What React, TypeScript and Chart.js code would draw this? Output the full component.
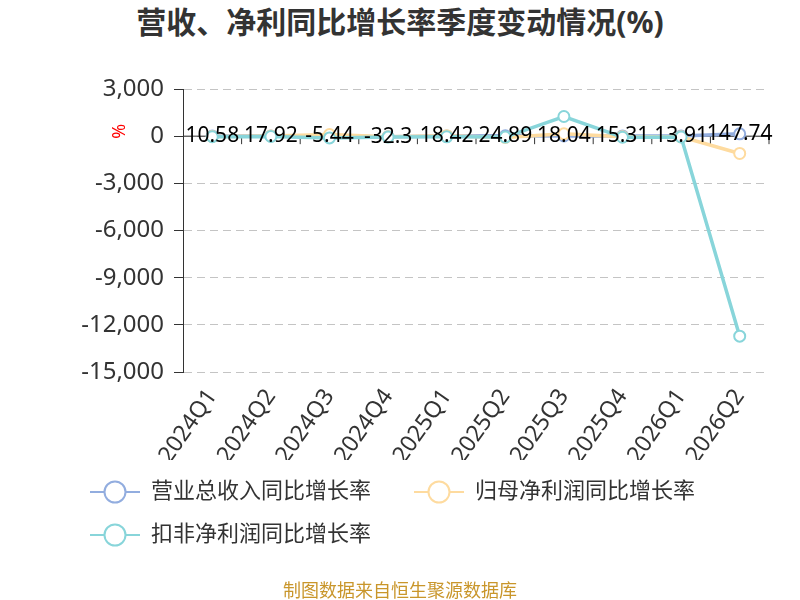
import { useEffect, useRef } from "react";
import Chart from "chart.js/auto";

const FONT = '"Noto Sans", "Noto Sans CJK SC", sans-serif';

const quarters = ["2024Q1", "2024Q2", "2024Q3", "2024Q4", "2025Q1", "2025Q2", "2025Q3", "2025Q4", "2026Q1", "2026Q2"];
const revenueGrowth = [10.58, 17.92, -5.44, -32.3, 18.42, 24.89, 18.04, 15.31, 13.91, 147.74];
const parentNetGrowth = [-20, 10, 100, -40, 30, -80, 150, -30, -40, -1100];
const deductedNetGrowth = [-30, -20, -110, -60, -40, -60, 1250, -70, -50, -12720];
const yTicks = [3000, 0, -3000, -6000, -9000, -12000, -15000];

const seriesNames = ["营业总收入同比增长率", "归母净利润同比增长率", "扣非净利润同比增长率"];
const seriesColors = ["#92addf", "#fedb9f", "#88d5da"];

// legend symbol: short line with hollow circle
const makeIcon = (color: string) => {
  const c = document.createElement("canvas");
  c.width = 50;
  c.height = 26;
  const g = c.getContext("2d")!;
  g.strokeStyle = color;
  g.lineWidth = 2;
  g.beginPath();
  g.moveTo(0, 13);
  g.lineTo(50, 13);
  g.stroke();
  g.beginPath();
  g.arc(25, 13, 10.5, 0, Math.PI * 2);
  g.fillStyle = "#fff";
  g.fill();
  g.stroke();
  return c;
};

const extras = {
  id: "extras",
  beforeDatasetsDraw(chart: any) {
    const { ctx, chartArea, scales } = chart;
    const x = scales.x;
    const y0 = scales.y.getPixelForValue(0);
    ctx.save();
    ctx.strokeStyle = "#333";
    ctx.lineWidth = 1;
    ctx.beginPath();
    ctx.moveTo(chartArea.left, y0);
    ctx.lineTo(chartArea.right, y0);
    const half = (x.getPixelForValue(1) - x.getPixelForValue(0)) / 2;
    quarters.forEach((_, i) => {
      const xb = x.getPixelForValue(i) + half;
      ctx.moveTo(xb, y0);
      ctx.lineTo(xb, y0 + 8);
    });
    ctx.stroke();
    ctx.restore();
  },
  afterDatasetsDraw(chart: any) {
    const { ctx, chartArea, scales } = chart;
    const meta = chart.getDatasetMeta(0);
    ctx.save();
    ctx.font = `21px ${FONT}`;
    ctx.fillStyle = "#000";
    ctx.textAlign = "center";
    ctx.textBaseline = "middle";
    meta.data.forEach((pt: any, i: number) => {
      ctx.fillText(String(revenueGrowth[i]), pt.x, pt.y);
    });
    // y axis name
    const y0 = scales.y.getPixelForValue(0);
    ctx.translate(chartArea.left - 63, y0 - 5);
    ctx.rotate(-Math.PI / 2);
    ctx.font = `18px ${FONT}`;
    ctx.fillStyle = "#ff0000";
    ctx.fillText("%", 0, 0);
    ctx.restore();
  },
};

const App = () => {
  const chartRef = useRef<HTMLCanvasElement>(null);
  const chartInstanceRef = useRef<Chart>();

  useEffect(() => {
    if (!chartRef.current) return;
    const ctx = chartRef.current.getContext("2d");
    if (chartInstanceRef.current) chartInstanceRef.current.destroy();

    const icons = seriesColors.map(makeIcon);
    const values = [revenueGrowth, parentNetGrowth, deductedNetGrowth];

    chartInstanceRef.current = new Chart(ctx!, {
      type: "line",
      data: {
        labels: quarters,
        datasets: values.map((d, i) => ({
          label: seriesNames[i],
          data: d,
          borderColor: seriesColors[i],
          backgroundColor: seriesColors[i],
          borderWidth: 3.5,
          pointRadius: 5.5,
          pointBorderWidth: 2,
          pointBackgroundColor: "#fff",
          pointBorderColor: seriesColors[i],
          order: 2 - i,
          tension: 0,
        })),
      },
      options: {
        animation: false,
        responsive: true,
        maintainAspectRatio: false,
        layout: { padding: { top: 89, left: 69, right: 31, bottom: 44 } },
        plugins: {
          title: { display: false },
          tooltip: { enabled: false },
          legend: {
            position: "bottom",
            align: "start",
            labels: {
              usePointStyle: true,
              pointStyleWidth: 50,
              padding: 21,
              color: "#333",
              font: { size: 22, family: FONT },
              sort: (a: any, b: any) => a.datasetIndex - b.datasetIndex,
              generateLabels: (chart: any) =>
                Chart.defaults.plugins.legend.labels.generateLabels(chart).map((item: any) => ({
                  ...item,
                  text: item.text + "\u3000",
                  pointStyle: icons[item.datasetIndex],
                })),
            },
          },
        },
        scales: {
          x: {
            type: "category",
            offset: true,
            grid: { display: false, drawTicks: false },
            border: { display: false },
            ticks: {
              color: "#333",
              font: { size: 23, family: FONT },
              minRotation: 55,
              maxRotation: 55,
              padding: 12,
              autoSkip: false,
            },
            afterFit: (s: any) => {
              s.height = 88;
            },
          },
          y: {
            min: yTicks[yTicks.length - 1],
            max: yTicks[0],
            afterBuildTicks: (s: any) => {
              s.ticks = yTicks.map((v) => ({ value: v }));
            },
            ticks: {
              color: "#333",
              font: { size: 24, family: FONT },
              padding: 10,
              callback: (v: any) => Number(v).toLocaleString("en-US"),
            },
            grid: { color: "#c4c4c4", tickColor: "#333", tickLength: 9, lineWidth: 1 },
            border: { display: true, color: "#333", width: 1, dash: [8, 5] },
            afterFit: (s: any) => {
              s.width = 114;
            },
          },
        },
      },
      plugins: [extras],
    });

    return () => {
      if (chartInstanceRef.current) chartInstanceRef.current.destroy();
    };
  }, []);

  return (
    <div style={{ position: "fixed", left: 0, top: 0, width: 800, height: 600, background: "#fff", fontFamily: FONT }}>
      <div
        style={{
          position: "absolute",
          top: 4,
          left: 0,
          width: 800,
          textAlign: "center",
          fontSize: 30,
          fontWeight: "bold",
          color: "#333",
          lineHeight: "36px",
        }}
      >
        营收、净利同比增长率季度变动情况(%)
      </div>
      <div style={{ position: "absolute", left: 0, top: 0, width: 800, height: 600 }}>
        <canvas ref={chartRef}></canvas>
      </div>
      <div
        style={{
          position: "absolute",
          top: 577,
          left: 0,
          width: 800,
          textAlign: "center",
          fontSize: 18,
          color: "#c9962b",
          lineHeight: "26px",
        }}
      >
        制图数据来自恒生聚源数据库
      </div>
    </div>
  );
};

export default App;
